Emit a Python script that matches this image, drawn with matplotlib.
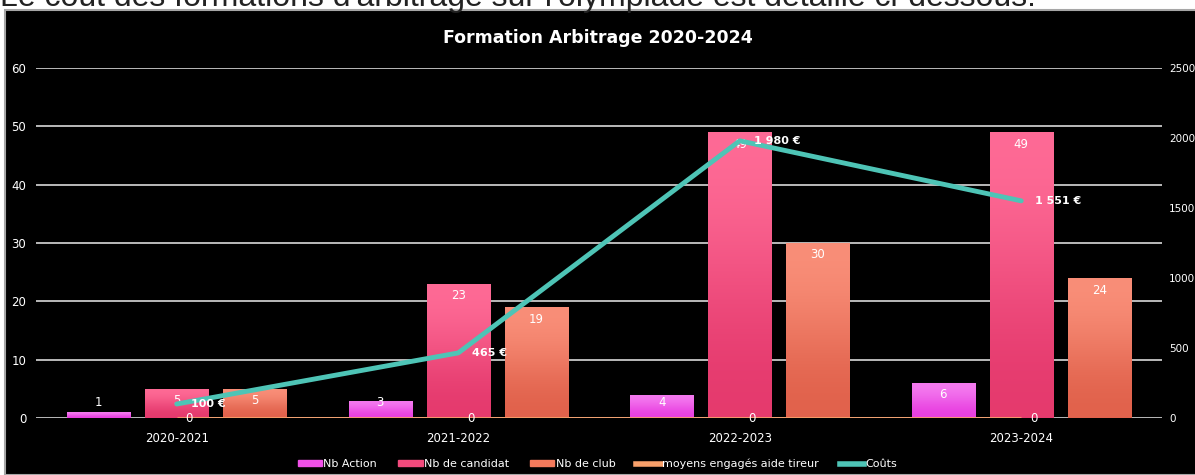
import numpy as np
import matplotlib
matplotlib.use('Agg')
import matplotlib.pyplot as plt
from matplotlib.patches import Rectangle
from matplotlib.lines import Line2D
from matplotlib.colors import to_rgb

plt.rcParams['font.family'] = ['DejaVu Sans']

# data
saisons = ['2020-2021', '2021-2022', '2022-2023', '2023-2024']
nb_action = [1, 3, 4, 6]
nb_candidat = [5, 23, 49, 49]
nb_club = [5, 19, 30, 24]
moyens_tireur = [0, 0, 0, 0]
couts = [100, 465, 1980, 1551]
couts_labels = ['100 €', '465 €', '1 980 €', '1 551 €']
y_ticks = [0, 10, 20, 30, 40, 50, 60]
y2_ticks = [0, 500, 1000, 1500, 2000, 2500]

col_action = ('#F47CEF', '#E83DE0')
col_candidat = ('#FF6C97', '#E4386C')
col_club = ('#FA907A', '#E0604A')
col_moyens = '#F8A06A'
col_couts = '#4EC4B6'


def gradient_bars(ax, x, h, w, cols):
    top, bot = to_rgb(cols[0]), to_rgb(cols[1])
    grad = np.array([top, bot]).reshape(2, 1, 3)
    bars = ax.bar(x, h, w, color='none', edgecolor='none', zorder=2)
    for b in bars:
        x0, y0 = b.get_x(), b.get_y()
        im = ax.imshow(grad, extent=(x0, x0 + b.get_width(), y0, y0 + b.get_height()),
                       aspect='auto', interpolation='bicubic', zorder=2)
        im.set_clip_path(b)
    return bars


fig = plt.figure(figsize=(11.95, 4.75), dpi=100, facecolor='white')
fig.patches.append(Rectangle((5 / 1195, 0), 1, 465 / 475, transform=fig.transFigure,
                             facecolor='black', edgecolor='#A6A6A6', lw=1.5, zorder=-5))
fig.text(0.0, 469 / 475, "Le coût des formations d'arbitrage sur l'olympiade est détaillé ci-dessous.",
         fontsize=23, color='#222222', va='baseline', ha='left', family=['Liberation Sans', 'DejaVu Sans'])

ax = fig.add_axes([36 / 1195, 57 / 475, 1126 / 1195, 350 / 475])
ax.set_facecolor('none')
ax2 = ax.twinx()

x = np.arange(len(saisons))
w = 0.224
off = 0.277

for yt in y_ticks:
    ax.axhline(yt, color='#D9D9D9', lw=1.2, zorder=1)

gradient_bars(ax, x - off, nb_action, w, col_action)
gradient_bars(ax, x, nb_candidat, w, col_candidat)
gradient_bars(ax, x + off, nb_club, w, col_club)

# bar labels (inside end, clamped near base)
px = 60 / 350
for dx, vals in [(-off, nb_action), (0, nb_candidat), (off, nb_club)]:
    for i, v in enumerate(vals):
        ly = max(v - 12 * px, 15 * px)
        ax.text(x[i] + dx, ly, str(v), color='white', fontsize=8.5, ha='center', va='center', zorder=4)

ax.plot(x, moyens_tireur, color=col_moyens, lw=2, zorder=3, solid_capstyle='butt')
for i, v in enumerate(moyens_tireur):
    ax.text(x[i] + 0.045, v, str(v), color='white', fontsize=8.5, ha='center', va='center', zorder=4)

ax.set_xlim(-0.5, 3.5)
ax.set_ylim(0, 60)
ax.set_yticks(y_ticks)
ax.set_xticks(x)
ax.set_xticklabels(saisons)
ax.tick_params(axis='y', colors='white', length=0, labelsize=8.5, pad=7)
ax.tick_params(axis='x', colors='white', length=0, labelsize=8.5, pad=10)
for s in ax.spines.values():
    s.set_visible(False)

ax2.plot(x, couts, color=col_couts, lw=3.5, zorder=5, solid_capstyle='round')
for i, v in enumerate(couts):
    ax2.text(x[i] + 0.05, v, couts_labels[i], color='white', fontsize=8, fontweight='bold',
             ha='left', va='center', zorder=6)
ax2.set_ylim(0, 2500)
ax2.set_yticks(y2_ticks)
ax2.tick_params(axis='y', colors='white', length=0, labelsize=7.5, pad=5)
for s in ax2.spines.values():
    s.set_visible(False)

fig.text(0.5, 1 - 38 / 475, 'Formation Arbitrage 2020-2024', color='white', fontsize=12.5,
         fontweight='bold', ha='center', va='center')

handles = [
    Rectangle((0, 0), 1, 1, color='#F050E8'),
    Rectangle((0, 0), 1, 1, color='#F24A7C'),
    Rectangle((0, 0), 1, 1, color='#F47A5C'),
    Line2D([], [], color=col_moyens, lw=4),
    Line2D([], [], color=col_couts, lw=4),
]
labels = ['Nb Action', 'Nb de candidat', 'Nb de club', 'moyens engagés aide tireur', 'Coûts']
leg = fig.legend(handles, labels, loc='center', bbox_to_anchor=(0.5, 11 / 475), ncol=5,
                 frameon=False, fontsize=8, labelcolor='white', handlelength=2.2,
                 handleheight=0.45, handletextpad=0.1, columnspacing=1.9)

fig.savefig('out.png', dpi=100, facecolor=fig.get_facecolor())
